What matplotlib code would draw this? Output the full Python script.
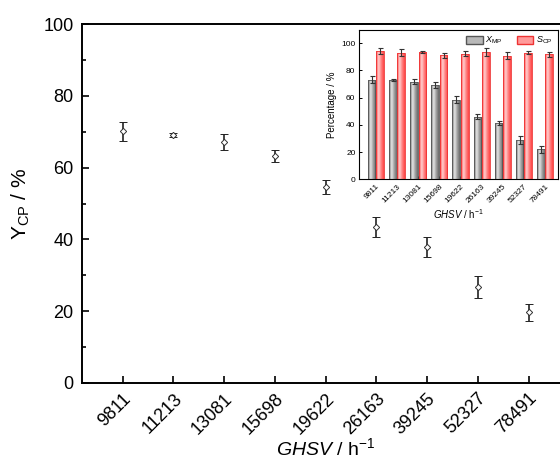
import numpy as np
import matplotlib
matplotlib.use('Agg')
import matplotlib.pyplot as plt
from matplotlib.colors import LinearSegmentedColormap
from matplotlib.patches import Patch
from matplotlib.ticker import MultipleLocator

plt.rcParams['font.family'] = ['Liberation Sans', 'DejaVu Sans']
plt.rcParams['mathtext.fontset'] = 'custom'
plt.rcParams['mathtext.rm'] = 'Liberation Sans'
plt.rcParams['mathtext.it'] = 'Liberation Sans:italic'

ghsv = ['9811', '11213', '13081', '15698', '19622', '26163', '39245', '52327', '78491']
y_cp = [70.1, 69.1, 67.1, 63.2, 54.6, 43.5, 38.0, 26.8, 19.7]
y_cp_err = [2.6, 0.6, 2.2, 1.6, 2.0, 2.7, 2.8, 3.0, 2.3]

x_mp = [73.2, 73.0, 71.6, 69.1, 58.6, 46.0, 41.5, 29.0, 22.0]
x_mp_err = [2.6, 1.0, 1.7, 2.0, 2.6, 2.0, 1.5, 2.8, 2.6]
s_cp = [94.3, 93.1, 93.6, 91.0, 92.3, 93.4, 90.7, 93.1, 91.8]
s_cp_err = [2.0, 2.6, 0.9, 2.0, 1.6, 2.7, 2.6, 1.4, 2.0]

x = np.arange(len(ghsv))

fig = plt.figure(figsize=(5.6, 4.61), dpi=100)

# main axes (right edge runs past the figure, as in the original)
ax = fig.add_axes([0.1464, 0.1692, 0.87, 0.7787])
ax.errorbar(x, y_cp, yerr=y_cp_err, fmt='D', ms=3.2, mfc='white', mec='#333333', mew=0.7,
            ecolor='#222222', elinewidth=1.2, capsize=3, capthick=1.2)
ax.set_xlim(-0.8, 8.8)
ax.set_ylim(0, 100)
ax.set_xticks(x)
ax.set_xticklabels(ghsv, rotation=45, ha='right', rotation_mode='anchor')
ax.yaxis.set_major_locator(MultipleLocator(20))
ax.yaxis.set_minor_locator(MultipleLocator(10))
ax.tick_params(axis='both', which='major', direction='in', length=5, width=1.2,
               labelsize=13, pad=6)
ax.tick_params(axis='x', which='major', pad=5)
ax.tick_params(axis='y', which='minor', direction='in', length=3, width=1.2)
for s in ax.spines.values():
    s.set_linewidth(1.4)
ax.set_ylabel('Y$_{\\mathrm{CP}}$ / %', fontsize=15, labelpad=8)
ax.set_xlabel('$\\mathit{GHSV}$ / h$^{-1}$', fontsize=14, labelpad=0)

# inset bar chart
ins = fig.add_axes([0.641, 0.611, 0.355, 0.325])
w = 0.36
gray_cmap = LinearSegmentedColormap.from_list('g', ['#6c6c6c', '#e6e6e6', '#a0a0a0', '#6a6a6a'])
red_cmap = LinearSegmentedColormap.from_list('r', ['#ff4a4a', '#ffd0d0', '#ff8080', '#ff4444'])
grad = np.linspace(0, 1, 64).reshape(1, -1)


def shaded_bars(axis, xs, vals, cmap, edge):
    bars = axis.bar(xs, vals, w, facecolor='none', edgecolor=edge, linewidth=0.6, zorder=3)
    for b in bars:
        im = axis.imshow(grad, cmap=cmap, aspect='auto', zorder=2,
                         extent=[b.get_x(), b.get_x() + b.get_width(), 0, b.get_height()])
        im.set_clip_path(b)
    return bars


shaded_bars(ins, x - 0.2, x_mp, gray_cmap, '#555555')
shaded_bars(ins, x + 0.2, s_cp, red_cmap, '#ee3333')
ins.errorbar(x - 0.2, x_mp, yerr=x_mp_err, fmt='none', ecolor='#333333', elinewidth=0.8,
             capsize=1.8, capthick=0.8, zorder=4)
ins.errorbar(x + 0.2, s_cp, yerr=s_cp_err, fmt='none', ecolor='#333333', elinewidth=0.8,
             capsize=1.8, capthick=0.8, zorder=4)
ins.set_xlim(-0.8, 8.6)
ins.set_ylim(0, 110)
ins.set_xticks(x)
ins.set_xticklabels(ghsv, rotation=45, ha='right', rotation_mode='anchor')
ins.set_yticks([0, 20, 40, 60, 80, 100])
ins.tick_params(axis='both', direction='in', length=2, width=0.7, labelsize=6, pad=2.5)
for s in ins.spines.values():
    s.set_linewidth(0.8)
ins.set_ylabel('Percentage / %', fontsize=7, labelpad=3)
ins.set_xlabel('$\\mathit{GHSV}$ / h$^{-1}$', fontsize=7, labelpad=2)
handles = [Patch(facecolor='#b8b8b8', edgecolor='#555555', label='$X_{\\mathrm{MP}}$'),
           Patch(facecolor='#ff9a9a', edgecolor='#ee3333', label='$S_{\\mathrm{CP}}$')]
ins.legend(handles=handles, loc='upper right', ncol=2, frameon=False, fontsize=6.5,
           handlelength=1.8, handleheight=1.0, columnspacing=1.6, handletextpad=0.3,
           borderaxespad=0.2)

fig.savefig('out.png', dpi=100)
